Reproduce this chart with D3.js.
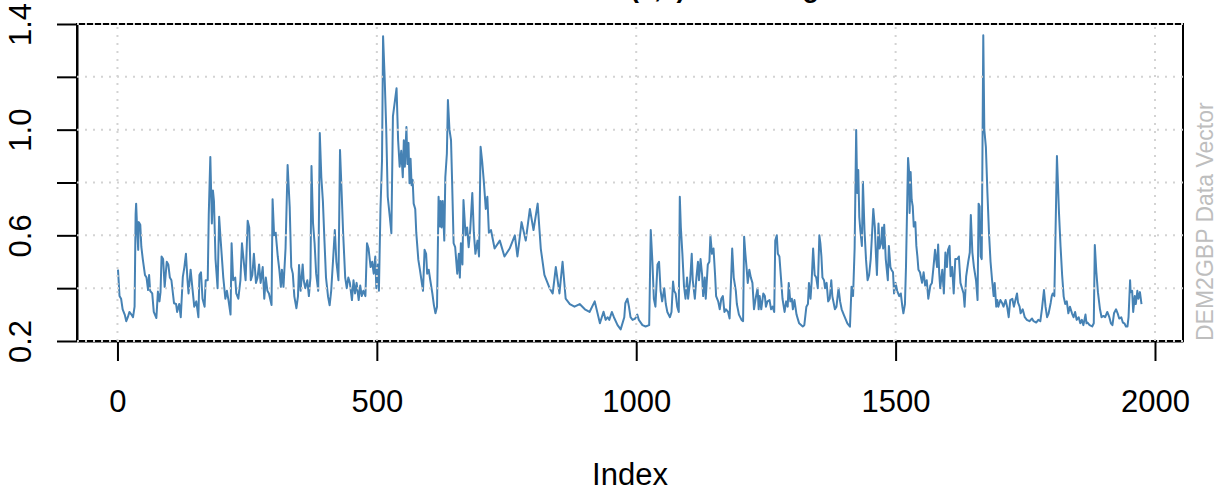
<!DOCTYPE html>
<html><head><meta charset="utf-8">
<script src="https://cdn.jsdelivr.net/npm/d3@7"></script>
<style>body{margin:0;background:#fff} svg{display:block;font-family:"Liberation Sans",Arial,Helvetica,sans-serif}</style>
</head><body>
<svg id="c" width="1229" height="492"></svg>
<script>
const obsIndex = [1,4,7,10,14,17,20,23,27,30,33,35,36,38,40,41,44,46,49,53,56,59,61,63,67,70,75,78,81,83,85,88,91,95,98,101,104,109,113,115,119,122,126,129,132,135,137,141,145,148,152,156,158,161,164,168,170,174,176,179,182,184,186,189,193,196,199,204,208,211,214,218,220,223,227,229,233,237,240,244,247,251,254,257,260,263,267,270,273,276,280,283,286,289,292,297,299,302,305,309,312,315,317,320,324,328,332,335,338,341,345,348,350,353,357,359,362,366,369,372,374,377,380,383,387,390,393,396,399,402,406,409,412,416,419,422,426,429,432,435,439,442,445,448,452,455,458,461,465,468,471,474,478,481,484,488,491,494,497,499,502,504,507,510,512,515,518,521,525,528,531,538,541,544,547,550,552,554,557,559,561,563,565,567,569,571,574,576,580,583,586,589,592,595,597,600,603,607,610,613,616,619,622,623,625,627,630,632,635,637,640,643,645,648,651,655,658,660,662,665,667,671,674,677,680,684,687,690,694,697,700,703,706,710,713,716,720,727,737,746,756,766,771,779,787,795,802,810,816,823,833,839,845,852,858,864,872,881,891,901,910,920,930,937,941,945,948,953,957,964,970,977,979,983,986,989,993,998,1002,1005,1012,1018,1025,1028,1031,1034,1037,1041,1044,1047,1050,1054,1057,1060,1065,1068,1071,1073,1076,1079,1082,1084,1086,1089,1092,1095,1098,1100,1104,1107,1109,1113,1116,1119,1121,1124,1127,1129,1132,1134,1138,1141,1143,1146,1149,1152,1154,1158,1161,1164,1167,1170,1173,1177,1180,1183,1185,1188,1192,1194,1198,1203,1206,1208,1210,1213,1215,1218,1221,1224,1227,1231,1234,1236,1238,1241,1245,1248,1250,1253,1257,1260,1263,1266,1268,1271,1273,1276,1279,1282,1286,1289,1292,1294,1297,1300,1302,1305,1309,1312,1314,1321,1324,1328,1331,1333,1336,1338,1341,1344,1347,1350,1353,1355,1357,1359,1362,1364,1367,1370,1373,1376,1378,1383,1386,1390,1393,1396,1400,1407,1412,1415,1418,1421,1424,1426,1428,1430,1432,1435,1437,1440,1443,1446,1449,1452,1455,1457,1460,1462,1464,1467,1469,1472,1474,1476,1478,1481,1485,1487,1490,1492,1495,1497,1500,1503,1507,1510,1513,1515,1518,1520,1524,1526,1527,1529,1531,1533,1535,1538,1540,1542,1544,1547,1551,1554,1557,1560,1563,1567,1570,1573,1576,1580,1582,1584,1586,1590,1593,1596,1599,1601,1604,1606,1609,1612,1615,1619,1622,1625,1628,1631,1633,1636,1640,1643,1645,1648,1651,1655,1658,1660,1662,1664,1666,1669,1671,1674,1677,1680,1683,1686,1689,1691,1694,1696,1698,1702,1705,1708,1712,1715,1718,1721,1725,1728,1731,1734,1736,1739,1741,1745,1749,1753,1758,1763,1766,1771,1775,1779,1782,1786,1789,1792,1795,1799,1801,1803,1806,1811,1815,1818,1821,1824,1827,1830,1833,1836,1840,1843,1846,1849,1853,1856,1859,1862,1866,1868,1870,1874,1879,1882,1884,1887,1890,1894,1897,1901,1904,1908,1912,1915,1918,1921,1925,1928,1931,1935,1938,1941,1944,1947,1949,1952,1953,1956,1958,1961,1963,1966,1968,1971,1974];
const condSD = [0.47,0.37,0.36,0.32,0.30,0.275,0.29,0.31,0.30,0.29,0.33,0.68,0.72,0.62,0.545,0.65,0.64,0.557,0.507,0.45,0.44,0.393,0.45,0.39,0.38,0.31,0.287,0.387,0.35,0.385,0.52,0.51,0.405,0.50,0.49,0.44,0.43,0.343,0.34,0.31,0.34,0.29,0.443,0.48,0.53,0.43,0.38,0.47,0.39,0.33,0.35,0.29,0.45,0.46,0.36,0.33,0.43,0.43,0.68,0.897,0.645,0.77,0.73,0.51,0.40,0.67,0.58,0.44,0.36,0.39,0.355,0.30,0.57,0.43,0.44,0.38,0.36,0.43,0.57,0.49,0.43,0.655,0.63,0.43,0.45,0.53,0.42,0.44,0.49,0.42,0.48,0.36,0.44,0.39,0.38,0.336,0.737,0.60,0.61,0.52,0.47,0.405,0.47,0.405,0.55,0.866,0.708,0.48,0.455,0.368,0.324,0.37,0.488,0.39,0.49,0.43,0.40,0.43,0.37,0.44,0.862,0.645,0.57,0.455,0.39,0.987,0.82,0.73,0.58,0.44,0.367,0.335,0.39,0.52,0.62,0.50,0.43,0.923,0.77,0.61,0.44,0.40,0.44,0.42,0.355,0.43,0.38,0.42,0.355,0.41,0.37,0.39,0.37,0.57,0.55,0.48,0.50,0.455,0.52,0.40,0.49,0.39,0.70,0.885,1.354,1.20,1.01,0.746,0.67,0.608,1.05,1.157,0.96,0.86,0.92,0.82,0.96,0.86,1.01,0.87,0.95,0.797,0.89,0.79,0.81,0.72,0.70,0.61,0.507,0.47,0.43,0.39,0.545,0.53,0.455,0.47,0.43,0.38,0.336,0.305,0.33,0.746,0.633,0.73,0.63,0.73,0.58,0.82,0.91,1.112,1.00,0.96,0.81,0.57,0.555,0.455,0.53,0.44,0.57,0.49,0.734,0.60,0.63,0.555,0.62,0.76,0.61,0.53,0.58,0.52,0.935,0.88,0.81,0.70,0.746,0.61,0.62,0.55,0.58,0.52,0.55,0.60,0.52,0.65,0.58,0.70,0.62,0.72,0.55,0.45,0.40,0.38,0.48,0.38,0.50,0.36,0.34,0.33,0.34,0.32,0.31,0.35,0.267,0.311,0.28,0.29,0.28,0.31,0.29,0.26,0.244,0.29,0.343,0.36,0.33,0.29,0.28,0.285,0.30,0.28,0.26,0.255,0.26,0.62,0.507,0.36,0.33,0.49,0.50,0.39,0.35,0.40,0.34,0.31,0.29,0.31,0.425,0.39,0.38,0.33,0.31,0.746,0.63,0.53,0.41,0.36,0.44,0.36,0.43,0.53,0.43,0.36,0.44,0.50,0.43,0.51,0.45,0.37,0.44,0.36,0.49,0.50,0.60,0.53,0.55,0.45,0.37,0.35,0.32,0.36,0.37,0.31,0.32,0.31,0.285,0.44,0.55,0.44,0.39,0.34,0.30,0.28,0.275,0.595,0.54,0.47,0.42,0.47,0.44,0.42,0.32,0.37,0.40,0.32,0.37,0.32,0.38,0.37,0.33,0.35,0.355,0.32,0.33,0.31,0.58,0.60,0.53,0.52,0.44,0.36,0.31,0.35,0.33,0.42,0.35,0.36,0.32,0.355,0.30,0.28,0.267,0.255,0.26,0.33,0.34,0.42,0.36,0.42,0.55,0.45,0.44,0.40,0.60,0.57,0.52,0.44,0.43,0.40,0.42,0.35,0.36,0.43,0.37,0.32,0.33,0.40,0.35,0.32,0.30,0.267,0.254,0.405,0.37,0.55,0.999,0.76,0.847,0.67,0.62,0.56,0.803,0.62,0.507,0.43,0.45,0.51,0.62,0.70,0.63,0.53,0.45,0.645,0.55,0.57,0.63,0.55,0.64,0.51,0.43,0.56,0.48,0.47,0.46,0.38,0.42,0.39,0.37,0.38,0.33,0.305,0.34,0.48,0.893,0.84,0.685,0.84,0.734,0.71,0.633,0.65,0.56,0.52,0.47,0.46,0.42,0.46,0.41,0.43,0.36,0.41,0.42,0.48,0.545,0.48,0.565,0.46,0.40,0.47,0.38,0.535,0.48,0.545,0.56,0.445,0.48,0.38,0.51,0.51,0.52,0.42,0.40,0.38,0.33,0.445,0.50,0.535,0.677,0.535,0.48,0.43,0.355,0.72,0.71,0.52,0.51,1.357,1.00,0.935,0.76,0.61,0.50,0.43,0.37,0.42,0.33,0.355,0.33,0.355,0.345,0.33,0.355,0.33,0.29,0.355,0.36,0.33,0.355,0.38,0.345,0.33,0.305,0.32,0.29,0.28,0.275,0.285,0.275,0.27,0.28,0.275,0.32,0.393,0.33,0.29,0.305,0.345,0.37,0.38,0.37,0.90,0.683,0.557,0.45,0.368,0.34,0.35,0.305,0.33,0.305,0.29,0.31,0.28,0.29,0.267,0.28,0.26,0.30,0.267,0.27,0.26,0.255,0.267,0.563,0.46,0.385,0.32,0.29,0.295,0.29,0.31,0.29,0.267,0.26,0.305,0.32,0.305,0.285,0.29,0.27,0.267,0.255,0.255,0.29,0.43,0.385,0.39,0.31,0.37,0.34,0.39,0.36,0.385,0.34];

const xTicks = [0, 500, 1000, 1500, 2000];
const yTicks = [0.2, 0.4, 0.6, 0.8, 1.0, 1.2, 1.4];
const yTickLabels = ["0.2", "", "0.6", "", "1.0", "", "1.4"];
const titleText = "Normal GARCH(1,1) Modelling";
const sideText = "DEM2GBP Data Vector";
const xLabel = "Index";

const svg = d3.select("#c");
const L = 77, R = 1183, T = 24, B = 341;
const x = d3.scaleLinear().domain([-78, 2054]).range([L, R]);
const y = d3.scaleLinear().domain([0.2, 1.4]).range([B, T]);
const pts = obsIndex.map((d, i) => [d, condSD[i]]);

// series line
svg.append("path").datum(pts)
  .attr("fill", "none").attr("stroke", "steelblue").attr("stroke-width", 2)
  .attr("stroke-linejoin", "round")
  .attr("d", d3.line().x(d => x(d[0])).y(d => y(d[1])));

// box
svg.append("rect").attr("x", L).attr("y", T).attr("width", R - L).attr("height", B - T)
  .attr("fill", "none").attr("stroke", "#000").attr("stroke-width", 2);

// x axis
const gx = svg.append("g").attr("transform", `translate(0,${B})`)
  .call(d3.axisBottom(x).tickValues(xTicks).tickFormat(d3.format("d")).tickSize(20).tickSizeOuter(0));
gx.select(".domain").attr("stroke", "#000").attr("stroke-width", 2);
gx.selectAll(".tick line").attr("stroke", "#000").attr("stroke-width", 2);
gx.selectAll(".tick text").attr("y", 71).attr("dy", 0).attr("font-size", 31)
  .attr("font-family", "Liberation Sans, Arial, sans-serif").attr("fill", "#000");

// y axis
const gy = svg.append("g").attr("transform", `translate(${L},0)`)
  .call(d3.axisLeft(y).tickValues(yTicks).tickFormat((d, i) => yTickLabels[i]).tickSize(20).tickSizeOuter(0));
gy.select(".domain").attr("stroke", "#000").attr("stroke-width", 2);
gy.selectAll(".tick line").attr("stroke", "#000").attr("stroke-width", 2);
gy.selectAll(".tick text").attr("x", null).attr("dy", 0).attr("text-anchor", "middle")
  .attr("transform", "translate(-46,0) rotate(-90)").attr("font-size", 31)
  .attr("font-family", "Liberation Sans, Arial, sans-serif").attr("fill", "#000");

// grid (drawn on top, as R's grid())
const grid = svg.append("g").attr("stroke", "#D3D3D3").attr("stroke-width", 2).attr("stroke-dasharray", "2,6");
grid.selectAll("line.v").data(xTicks).join("line").attr("class", "v")
  .attr("x1", d => x(d)).attr("x2", d => x(d)).attr("y1", B).attr("y2", T);
grid.selectAll("line.h").data(yTicks).join("line").attr("class", "h")
  .attr("y1", d => y(d)).attr("y2", d => y(d)).attr("x1", L).attr("x2", R);

// x label
svg.append("text").attr("x", (L + R) / 2).attr("y", 485).attr("text-anchor", "middle")
  .attr("font-size", 31).text(xLabel);

// side text
svg.append("text").attr("transform", `translate(1213,${B}) rotate(-90)`).attr("text-anchor", "start")
  .attr("font-size", 23).attr("fill", "#BEBEBE").text(sideText);

// title (cut off at the top edge, as in the reference)
const tt = svg.append("text").attr("y", -3).attr("font-size", 27).attr("font-weight", "bold").text(titleText);
const pre = tt.node().getSubStringLength(0, titleText.indexOf("("));
tt.attr("x", 630 - pre);
</script>
</body></html>
